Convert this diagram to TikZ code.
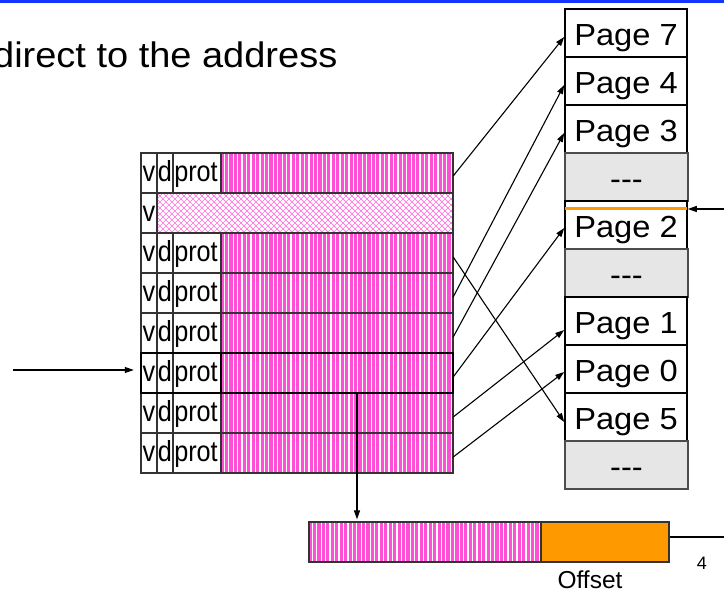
\documentclass[tikz,border=0pt]{standalone}
\usepackage{fontspec}
\setmainfont{Liberation Sans}
\newfontfamily\widefont[FakeStretch=1.07]{Liberation Sans}
\newfontfamily\cellfont[FakeStretch=0.87]{Liberation Sans}
\usetikzlibrary{arrows.meta,calc}
\definecolor{stripepink}{HTML}{FF4FD6}
\definecolor{hatchpink}{HTML}{FF70DE}
\definecolor{offorange}{HTML}{FF9900}
\definecolor{framegray}{HTML}{E6E6E6}
\definecolor{topblue}{HTML}{1434FF}
\definecolor{gridgray}{HTML}{333333}

% vertical pink/white stripes filling a rectangle
\newcommand\pinkstripes[4]{%
  \pgfmathsetmacro\stripetop{#2}%
  \pgfmathsetmacro\stripebot{#4}%
  \fill[stripepink] (#1,\stripetop) rectangle (#3,\stripebot);
  \begin{scope}
    \clip (#1,\stripetop) rectangle (#3,\stripebot);
    \foreach \sk in {0,...,54}
      \draw[white, line width=1.3pt] ({#1+3.3+4.45*\sk},\stripetop) -- ({#1+3.3+4.45*\sk},\stripebot);
  \end{scope}}

\tikzset{
  rowbox/.style={minimum width=312pt, minimum height=40pt, inner sep=0pt},
  celltext/.style={font=\cellfont\fontsize{29}{29}\selectfont, inner sep=0pt,
                   text height=18pt, text depth=0pt},
  pageframe/.style={draw=black, line width=1.6pt, fill=white,
                    minimum width=122pt, minimum height=48pt, inner sep=0pt,
                    font=\widefont\fontsize{30.5}{31}\selectfont,
                    text height=26pt, text depth=0pt},
  emptyframe/.style={pageframe, draw=black!70, line width=1.2pt, fill=framegray,
                     minimum width=123pt},
  gridline/.style={draw=gridgray, line width=1.3pt},
  conn/.style={draw=black, line width=1.1pt, -{Triangle[length=9pt,width=6pt]}},
  plain/.style={draw=black, line width=1.1pt},
}

\begin{document}
\begin{tikzpicture}[x=1pt, y=-1pt]
\useasboundingbox (0,0) rectangle (724,593);

% top rule and heading
\fill[topblue] (0,0) rectangle (724,3.3);
\node[font=\widefont\fontsize{35.5}{36}\selectfont, inner sep=0pt, anchor=base east]
  (heading) at (337.5,68) {direct to the address};

% page table rows
\foreach \i in {1,...,8}
  \node[rowbox] (r\i) at (297,{133+40*\i}) {};

\foreach \i in {1,3,4,5,6,7,8}
  \pinkstripes{221}{113+40*\i}{453}{153+40*\i};

% invalid entry: cross-hatched
\begin{scope}
  \clip (157,193) rectangle (453,233);
  \foreach \i in {-8,...,58} {
    \draw[hatchpink, line width=0.7pt] ({157+6*\i},193) -- ++(40,40);
    \draw[hatchpink, line width=0.7pt] ({157+6*\i},193) -- ++(-40,40);
  }
\end{scope}

% grid
\draw[gridline] (141,153) rectangle (453,473);
\foreach \y in {193,233,...,433} \draw[gridline] (141,\y) -- (453,\y);
\draw[gridline] (157,153) -- (157,473);
\foreach \x in {173,221} {
  \draw[gridline] (\x,153) -- (\x,193);
  \draw[gridline] (\x,233) -- (\x,473);
}
\draw[black, line width=1.8pt] (r6.north west) rectangle (r6.south east);
\draw[black, line width=1.8pt] (221,353) -- (221,393);

% cell labels
\foreach \i in {1,3,4,5,6,7,8} {
  \node[celltext] (v\i) at (149,{133+40*\i}) {v};
  \node[celltext] (d\i) at (165,{133+40*\i}) {d};
  \node[celltext] (p\i) at (196,{133+40*\i}) {prot};
}
\node[celltext] (v2) at (149,213) {v};

% physical frames
\node[pageframe]  (f1)  at (626,33)    {Page 7};
\node[pageframe]  (f2)  at (626,81)    {Page 4};
\node[pageframe]  (f3)  at (626,129)   {Page 3};
\node[emptyframe] (f4)  at (626.5,177) {-{}-{}-};
\node[pageframe]  (f5)  at (626,225)   {Page 2};
\node[emptyframe] (f6)  at (626.5,273) {-{}-{}-};
\node[pageframe]  (f7)  at (626,321)   {Page 1};
\node[pageframe]  (f8)  at (626,369)   {Page 0};
\node[pageframe]  (f9)  at (626,417)   {Page 5};
\node[emptyframe] (f10) at (626.5,465) {-{}-{}-};

% physical address: frame number + offset
\pinkstripes{309}{522}{541}{562}
\node[draw=gridgray, line width=1.2pt, minimum width=232pt, minimum height=40pt,
      inner sep=0pt] (vpn) at (425,542) {};
\node[draw=gridgray, line width=1.2pt, fill=offorange, minimum width=128pt,
      minimum height=40pt, inner sep=0pt] (off) at (605,542) {};
\node[inner sep=0pt, anchor=base, font=\fontsize{24.5}{25}\selectfont] (offlbl)
  at (590,589) {Offset};
\node[inner sep=0pt, font=\fontsize{18}{18}\selectfont] (pagenum) at (702,563) {4};

% incoming virtual address
\coordinate (vin) at (13,370);
\draw[conn] (vin) -- ([xshift=-7pt,yshift=3pt]r6.west);

% entry -> frame pointers
\draw[conn] ([yshift=-3pt]r1.east) -- ([yshift=-4pt]f1.west);
\draw[conn] ([yshift=-4pt]r3.east) -- ([yshift=-5pt]f9.west);
\draw[conn] ([yshift=-4pt]r4.east) -- ([yshift=-4pt]f2.west);
\draw[conn] ([yshift=-4pt]r5.east) -- ([yshift=-4pt]f3.west);
\draw[conn] ([yshift=-4pt]r6.east) -- ([yshift=-3pt]f5.west);
\draw[conn] ([yshift=-4pt]r7.east) -- ([yshift=-9pt]f7.west);
\draw[conn] ([yshift=-4pt]r8.east) -- ([yshift=-3pt]f8.west);

% frame number copied down into the physical address
\coordinate (split) at (357,393);
\draw[plain] (split) -- (split |- r8.south);
\draw[conn] (split) -- ($(split |- vpn.north)+(0,-2)$);

% pointer into the middle of a frame
\draw[offorange, line width=3pt] ([yshift=-8pt,xshift=1pt]f5.north west) -- ([yshift=-8pt,xshift=-1pt]f5.north east);
\coordinate (ptr) at (724,209);
\draw[conn] (ptr) -- (ptr -| f5.east);

% offset continues to the right
\coordinate (offend) at (724,537);
\draw[plain] ([yshift=5pt]off.east) -- (offend);
\end{tikzpicture}
\end{document}
